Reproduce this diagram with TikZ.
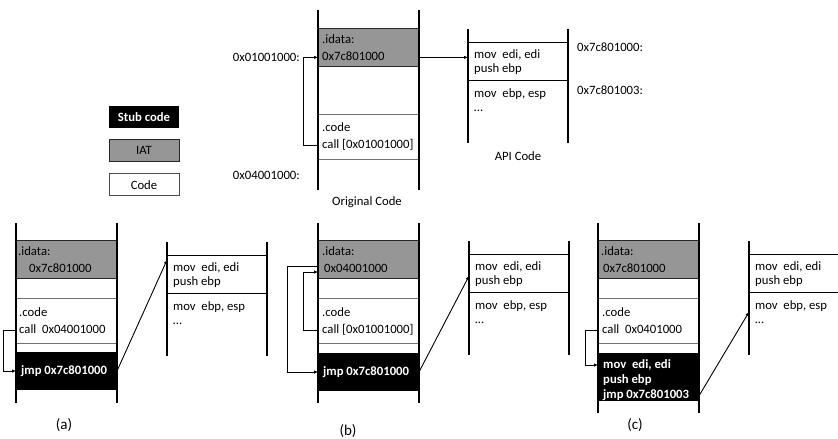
\documentclass[tikz,border=0pt]{standalone}
\usepackage{fontspec}
\setmainfont{Carlito}
\usetikzlibrary{arrows.meta,positioning,calc}

\tikzset{
	mem/.style={line width=1.3pt},
	sep/.style={line width=1pt},
	iatbox/.style={draw=black!85, fill=black!41, line width=0.9pt,
		minimum width=101pt, minimum height=38pt,
		anchor=north west, inner sep=0pt, outer sep=0pt},
	codebox/.style={draw=black!55, fill=white, line width=0.9pt,
		minimum width=101pt, minimum height=45pt,
		anchor=north west, inner sep=0pt, outer sep=0pt},
	stubbox/.style={fill=black, minimum width=101pt, minimum height=38pt,
		anchor=north west, inner sep=0pt, outer sep=0pt},
	apibox/.style={minimum width=100pt, minimum height=114pt,
		anchor=north west, inner sep=0pt, outer sep=0pt},
	txt/.style={anchor=west, inner sep=0pt, text height=9pt, text depth=3pt,
		font=\fontsize{12.7}{15}\selectfont},
	apitxt/.style={anchor=west, align=left, inner sep=0pt,
		font=\fontsize{12.7}{14.5}\selectfont},
	stubtxt/.style={txt, text=white, font=\bfseries\fontsize{12.7}{15}\selectfont},
	legend/.style={minimum width=70pt, minimum height=22pt, inner sep=0pt,
		font=\fontsize{12.7}{15}\selectfont, line width=0.9pt},
	caption/.style={font=\fontsize{15}{18}\selectfont},
	jump/.style={-{Latex[length=4pt,width=3.5pt]}, line width=0.9pt},
}

\begin{document}
\begin{tikzpicture}[x=1pt, y=-1pt]
	\useasboundingbox (0,0) rectangle (838,439);
	
	% Legend
	\node[legend, fill=black, text=white, font=\bfseries\fontsize{12.7}{15}\selectfont] (leg-stub) at (144,117) {Stub code};
	\node[legend, draw=black!85, fill=black!41, below=11pt of leg-stub] (leg-iat) {IAT};
	\node[legend, draw=black!70, below=11pt of leg-iat] (leg-code) {Code};
	
	% API columns (same in every panel)
	\foreach \p/\px/\py in {top/468/29, a/167/242, b/469/241, c/749/241} {
		\node[apibox] (\p-api) at (\px,\py) {};
		\draw[mem] (\p-api.north west) -- (\p-api.south west)
			(\p-api.north east) -- (\p-api.south east);
		\draw[sep] ($(\p-api.north west)+(0,13)$) -- ($(\p-api.north east)+(0,13)$)
			($(\p-api.north west)+(0,51)$) -- ($(\p-api.north east)+(0,51)$);
		\node[apitxt] (\p-first) at ($(\p-api.north west)+(6,33)$) {mov\ \ edi, edi\\push ebp};
		\node[apitxt] (\p-rest) at ($(\p-api.north west)+(6,71)$) {mov\ \ ebp, esp\\\ldots};
	}
	
	% Original code
	\begin{scope}[shift={(318,10)}]
		\node[iatbox] (top-iat) at (0,18) {};
		\node[codebox] (top-code) at (0,104) {};
		\draw[mem] (0,0) -- (0,180) (101,0) -- (101,180);
		\node[txt] (top-sec) at ($(top-iat.north west)+(4,12)$) {.idata:};
		\node[txt, below right=5pt and 0pt of top-sec.south west] (top-addr) {0x7c801000};
		\node[txt] (top-cs) at ($(top-code.north west)+(4,14)$) {.code};
		\node[txt, below right=5pt and 0pt of top-cs.south west] (top-call) {call [0x01001000]};
	\end{scope}
	\node[txt, anchor=east] (top-l1) at (300,58) {0x01001000:};
	\node[txt, anchor=east] (top-l2) at (300,176) {0x04001000:};
	\node[txt, anchor=west] (api-l1) at (577,48) {0x7c801000:};
	\node[txt, anchor=west] (api-l2) at (577,91) {0x7c801003:};
	\node[txt, anchor=center] (orig-cap) at (367,202) {Original Code};
	\node[txt, anchor=center] (api-cap) at (518,157) {API Code};
	
	\draw[jump] (top-code.west |- top-call) -- ++(-15,0) |- (top-iat.west |- top-addr);
	\draw[jump] (top-iat.east |- top-addr) -- (top-api.west |- top-addr);
	
	% (a) call redirected to the stub
	\begin{scope}[shift={(16,223)}]
		\node[iatbox] (a-iat) at (0,17) {};
		\node[codebox] (a-code) at (0,75) {};
		\node[stubbox] (a-stub) at (0,129) {};
		\draw[mem] (0,0) -- (0,180) (101,0) -- (101,180);
		\node[txt] (a-sec) at ($(a-iat.north west)+(2,12)$) {.idata:};
		\node[txt, below right=5pt and 0pt of a-sec.south west] (a-addr) {\hspace*{11pt}0x7c801000};
		\node[txt] (a-cs) at ($(a-code.north west)+(3,15)$) {.code};
		\node[txt, below right=5pt and 0pt of a-cs.south west] (a-call) {call\ \ 0x04001000};
		\node[stubtxt] (a-jmp) at ($(a-stub.west)+(5,0)$) {jmp 0x7c801000};
	\end{scope}
	\node[caption] (a-cap) at (64,425) {(a)};
	
	\draw[jump] (a-code.west |- a-call) -- ++(-13,0) |- (a-stub.west);
	\draw[jump] (a-stub.east) -- ($(a-api.north west)+(0,18)$);
	
	% (b) IAT entry patched to the stub
	\begin{scope}[shift={(318,223)}]
		\node[iatbox] (b-iat) at (0,17) {};
		\node[codebox] (b-code) at (0,75) {};
		\node[stubbox] (b-stub) at (0,130) {};
		\draw[mem] (0,0) -- (0,180) (101,0) -- (101,180);
		\node[txt] (b-sec) at ($(b-iat.north west)+(4,12)$) {.idata:};
		\node[txt, below right=5pt and 0pt of b-sec.south west] (b-addr) {\hspace*{2pt}0x04001000};
		\node[txt] (b-cs) at ($(b-code.north west)+(4,15)$) {.code};
		\node[txt, below right=5pt and 0pt of b-cs.south west] (b-call) {call [0x01001000]};
		\node[stubtxt] (b-jmp) at ($(b-stub.west)+(5,0)$) {jmp 0x7c801000};
	\end{scope}
	\node[caption] (b-cap) at (348,431) {(b)};
	
	\draw[jump] (b-code.west |- b-call) -- ++(-15,0) |- ($(b-iat.west)+(0,13)$);
	\draw[jump] ($(b-iat.west)+(0,7)$) -- ++(-31,0) |- (b-stub.west);
	\draw[jump] (b-stub.east) -- ($(b-api.north west)+(0,35)$);
	
	% (c) first instructions copied into the stub
	\begin{scope}[shift={(598,223)}]
		\node[iatbox] (c-iat) at (0,17) {};
		\node[codebox] (c-code) at (0,75) {};
		\node[stubbox, minimum height=48pt] (c-stub) at (0,130) {};
		\draw[mem] (0,0) -- (0,190) (101,0) -- (101,190);
		\node[txt] (c-sec) at ($(c-iat.north west)+(3,12)$) {.idata:};
		\node[txt, below right=5pt and 0pt of c-sec.south west] (c-addr) {\hspace*{2pt}0x7c801000};
		\node[txt] (c-cs) at ($(c-code.north west)+(4,15)$) {.code};
		\node[txt, below right=5pt and 0pt of c-cs.south west] (c-call) {call\ \ 0x0401000};
		\node[stubtxt] (c-line1) at ($(c-stub.north west)+(5,12)$) {mov\ \ edi, edi};
		\node[stubtxt, below right=3pt and 0pt of c-line1.south west] (c-line2) {push ebp};
		\node[stubtxt, below right=3pt and 0pt of c-line2.south west] (c-line3) {jmp 0x7c801003};
	\end{scope}
	\node[caption] (c-cap) at (635,425) {(c)};
	
	\draw[jump] (c-code.west |- c-call) -- ++(-13,0) |- (c-stub.west |- c-line1);
	\draw[jump] (c-stub.east |- c-line3) -- ($(c-api.north west)+(0,71)$);
\end{tikzpicture}
\end{document}
